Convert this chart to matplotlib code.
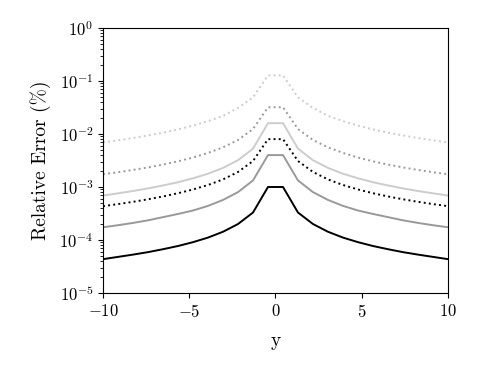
import matplotlib
matplotlib.use('Agg')
import matplotlib.pyplot as plt

# 字体设置 (Computer Modern 风格)
plt.rcParams['font.family'] = 'serif'
plt.rcParams['font.serif'] = ['cmr10']
plt.rcParams['mathtext.fontset'] = 'cm'
plt.rcParams['axes.formatter.use_mathtext'] = True
plt.rcParams['axes.unicode_minus'] = True

# 网格点 (右半边, 对称)
y_half = [0.435, 1.304, 2.174, 3.043, 3.913, 4.783, 5.652, 6.522, 7.391, 8.261, 9.130, 10.0]

# 各曲线右半边的相对误差 (%)
err_black = [1.0e-3, 3.3e-4, 2.0e-4, 1.43e-4, 1.11e-4, 9.1e-5, 7.7e-5, 6.7e-5, 5.9e-5, 5.3e-5, 4.8e-5, 4.35e-5]
err_gray = [4.0e-3, 1.33e-3, 8.0e-4, 5.7e-4, 4.4e-4, 3.6e-4, 3.1e-4, 2.7e-4, 2.35e-4, 2.1e-4, 1.9e-4, 1.74e-4]
err_black_dot = [8.0e-3, 3.09e-3, 1.92e-3, 1.39e-3, 1.09e-3, 8.98e-4, 7.63e-4, 6.63e-4, 5.86e-4, 5.25e-4, 4.76e-4, 4.35e-4]
err_light = [1.6e-2, 5.3e-3, 3.2e-3, 2.29e-3, 1.78e-3, 1.46e-3, 1.23e-3, 1.07e-3, 9.4e-4, 8.4e-4, 7.6e-4, 6.9e-4]
err_gray_dot = [3.2e-2, 1.24e-2, 7.7e-3, 5.6e-3, 4.4e-3, 3.6e-3, 3.05e-3, 2.65e-3, 2.34e-3, 2.1e-3, 1.9e-3, 1.74e-3]
err_light_dot = [0.128, 4.9e-2, 3.1e-2, 2.2e-2, 1.75e-2, 1.44e-2, 1.22e-2, 1.06e-2, 9.4e-3, 8.4e-3, 7.6e-3, 6.95e-3]


def mirror(v):
    return v[::-1] + v


y = [-v for v in y_half[::-1]] + y_half

fig = plt.figure(figsize=(4.8, 3.75), dpi=100)
ax = fig.add_axes([0.2146, 0.2187, 0.7187, 0.7066])

ax.plot(y, mirror(err_black), color='black', lw=1.4)
ax.plot(y, mirror(err_gray), color='0.6', lw=1.4)
ax.plot(y, mirror(err_black_dot), color='black', lw=1.4, ls=':')
ax.plot(y, mirror(err_light), color='0.8', lw=1.4)
ax.plot(y, mirror(err_gray_dot), color='0.6', lw=1.4, ls=':')
ax.plot(y, mirror(err_light_dot), color='0.8', lw=1.4, ls=':')

ax.set_yscale('log')
ax.set_ylim(1e-5, 1e0)
ax.set_xlim(-10, 10)
ax.set_xticks([-10, -5, 0, 5, 10])

ax.set_xlabel('y', fontsize=14, labelpad=9)
ax.set_ylabel('Relative Error (%)', fontsize=14, labelpad=6)
ax.tick_params(labelsize=12)

fig.savefig('out.png', dpi=100)
